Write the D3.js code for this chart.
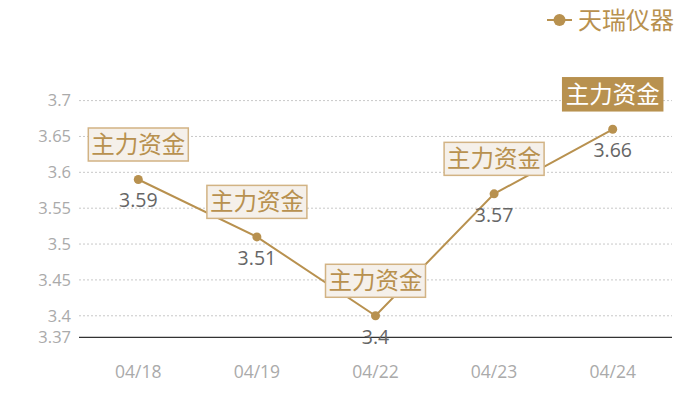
<!DOCTYPE html>
<html>
<head>
<meta charset="utf-8">
<script src="https://cdn.jsdelivr.net/npm/d3@7"></script>
<style>
  body { margin: 0; background: #fff; }
  svg { display: block; font-family: "Open Sans", "Noto Sans CJK SC", sans-serif; }
  .cjk { font-family: "Noto Sans CJK SC", sans-serif; }
</style>
</head>
<body>
<svg id="svg" width="700" height="400"></svg>
<script>
const dates = ["04/18", "04/19", "04/22", "04/23", "04/24"];
const prices = [3.59, 3.51, 3.4, 3.57, 3.66];
const tagText = "主力资金";
const yTicks = [3.37, 3.4, 3.45, 3.5, 3.55, 3.6, 3.65, 3.7];
const seriesName = "天瑞仪器";

function chart() {
  const gold = "#b8914f";

  const xScale = d3.scaleBand()
    .domain(dates)
    .range([79, 672]);

  const yScale = d3.scaleLinear()
    .domain([3.37, 3.7])
    .range([337.3, 100.6]);

  const svg = d3.select("#svg");
  const cx = d => xScale(d) + xScale.bandwidth() / 2;

  // grid lines
  svg.append("g")
    .selectAll("line")
    .data(yTicks.filter(t => t !== 3.37))
    .join("line")
    .attr("x1", 79)
    .attr("x2", 672)
    .attr("y1", d => yScale(d))
    .attr("y2", d => yScale(d))
    .attr("stroke", "#c8c8c8")
    .attr("stroke-dasharray", "2,2");

  // y tick labels
  svg.append("g")
    .selectAll("text")
    .data(yTicks)
    .join("text")
    .attr("x", 71)
    .attr("y", d => yScale(d))
    .attr("dy", "0.35em")
    .attr("text-anchor", "end")
    .attr("fill", "#aaaaaa")
    .attr("font-size", 16.5)
    .text(d => d);

  // x axis line
  svg.append("line")
    .attr("x1", 79)
    .attr("x2", 672)
    .attr("y1", yScale(3.37))
    .attr("y2", yScale(3.37))
    .attr("stroke", "#333")
    .attr("stroke-width", 1.2);

  svg.append("g")
    .selectAll("text")
    .data(dates)
    .join("text")
    .attr("x", d => cx(d))
    .attr("y", 372)
    .attr("dy", "0.35em")
    .attr("text-anchor", "middle")
    .attr("fill", "#aaaaaa")
    .attr("font-size", 17.5)
    .text(d => d);

  const pts = dates.map((d, i) => ({ date: d, value: prices[i] }));

  // line
  const line = d3.line()
    .x(d => cx(d.date))
    .y(d => yScale(d.value));

  svg.append("path")
    .datum(pts)
    .attr("d", line)
    .attr("fill", "none")
    .attr("stroke", gold)
    .attr("stroke-width", 2);

  svg.append("g")
    .selectAll("circle")
    .data(pts)
    .join("circle")
    .attr("cx", d => cx(d.date))
    .attr("cy", d => yScale(d.value))
    .attr("r", 4.5)
    .attr("fill", gold);

  // value labels
  svg.append("g")
    .selectAll("text")
    .data(pts)
    .join("text")
    .attr("x", d => cx(d.date))
    .attr("y", d => yScale(d.value) + 21)
    .attr("dy", "0.35em")
    .attr("text-anchor", "middle")
    .attr("fill", "#666666")
    .attr("font-size", 19.5)
    .text(d => d.value);

  // tags, the last one is highlighted
  const tags = svg.append("g")
    .selectAll("g")
    .data(pts)
    .join("g")
    .attr("transform", d => `translate(${cx(d.date)},${yScale(d.value) - 35})`);

  tags.append("rect")
    .attr("x", -50)
    .attr("y", -16.5)
    .attr("width", 100)
    .attr("height", 33)
    .attr("fill", (d, i) => i === pts.length - 1 ? gold : "#f5f0ea")
    .attr("stroke", (d, i) => i === pts.length - 1 ? gold : "#d2b384")
    .attr("stroke-width", 1.5);

  tags.append("text")
    .attr("class", "cjk")
    .attr("text-anchor", "middle")
    .attr("dy", "0.36em")
    .attr("font-size", 23.5)
    .attr("fill", (d, i) => i === pts.length - 1 ? "#ffffff" : gold)
    .text(tagText);

  // legend
  const legend = svg.append("g").attr("transform", "translate(547,20)");
  legend.append("line")
    .attr("x1", 0).attr("x2", 25)
    .attr("stroke", gold).attr("stroke-width", 2);
  legend.append("circle")
    .attr("cx", 12.5).attr("r", 6).attr("fill", gold);
  legend.append("text")
    .attr("class", "cjk")
    .attr("x", 31)
    .attr("dy", "0.36em")
    .attr("font-size", 24)
    .attr("fill", gold)
    .text(seriesName);
}

chart();
</script>
</body>
</html>
